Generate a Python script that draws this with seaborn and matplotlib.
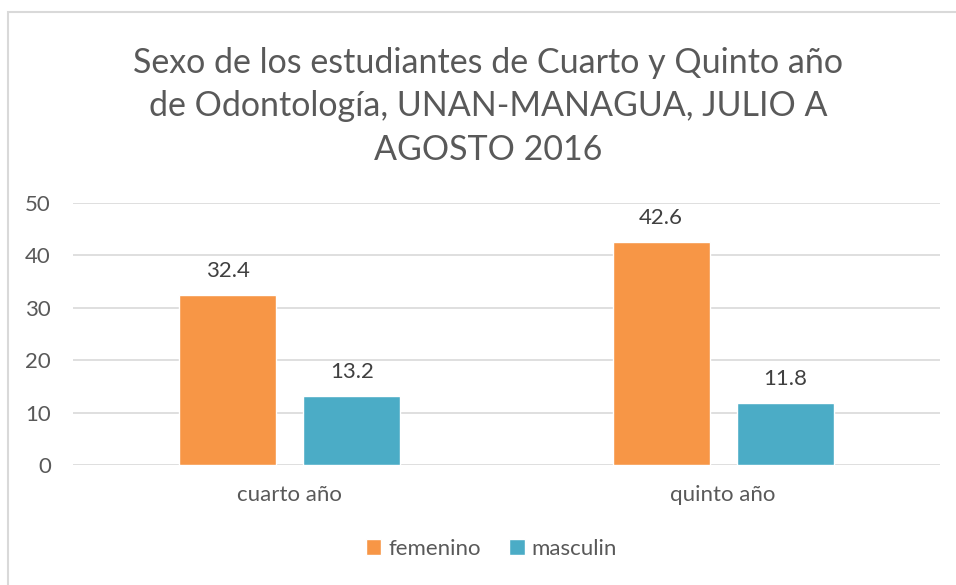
import pandas as pd
import matplotlib.pyplot as plt
import seaborn as sns
from matplotlib.patches import Rectangle

# data
anios = ['cuarto año', 'quinto año']
sexos = ['femenino', 'masculin']
femenino = [32.4, 42.6]
masculino = [13.2, 11.8]
colores = ['#F79646', '#4BACC6']

df = pd.DataFrame({
    'anio': anios * 2,
    'sexo': [sexos[0]] * 2 + [sexos[1]] * 2,
    'valor': femenino + masculino,
})

sns.set_theme(style='white')
plt.rcParams['font.family'] = ['Lato', 'DejaVu Sans']

fig = plt.figure(figsize=(9.56, 5.85), dpi=100)
ax = fig.add_axes([0.0764, 0.205, 0.9066, 0.448])

sns.barplot(data=df, x='anio', y='valor', hue='sexo', palette=colores,
            width=0.572, gap=0.217, saturation=1, ax=ax, legend=True)

ax.set_ylim(0, 50)
ax.set_xlim(-0.5, 1.5)
ax.set_yticks([0, 10, 20, 30, 40, 50])
ax.yaxis.grid(True, color='#D9D9D9', linewidth=1.2)
ax.set_axisbelow(True)
for s in ax.spines.values():
    s.set_visible(False)
ax.set_xlabel('')
ax.set_ylabel('')
ax.tick_params(axis='y', length=0, pad=16, labelsize=16, labelcolor='#595959')
ax.tick_params(axis='x', length=0, pad=14, labelsize=16, labelcolor='#595959')

for cont in ax.containers:
    ax.bar_label(cont, labels=[f'{v:.1f}' for v in cont.datavalues],
                 padding=10, fontsize=16, color='#404040')

handles, labels = ax.get_legend_handles_labels()
ax.get_legend().remove()
fig.legend(handles, labels, loc='center', bbox_to_anchor=(0.514, 0.062), ncol=2,
           frameon=False, fontsize=16, labelcolor='#595959', handlelength=0.7,
           handleheight=0.7, handletextpad=0.3, columnspacing=1.3)

fig.text(0.5105, 0.818, 'Sexo de los estudiantes de Cuarto y Quinto año\nde Odontología, UNAN-MANAGUA, JULIO A\nAGOSTO 2016',
         ha='center', va='center', fontsize=24.5, color='#595959', linespacing=1.45)

# chart frame (only top and left edges fall inside the image)
fig.patches.append(Rectangle((8 / 956, -0.1), 1.2, 1 - 12 / 585 + 0.1, transform=fig.transFigure,
                             fill=False, edgecolor='#D9D9D9', linewidth=1.5))

fig.savefig('out.png', dpi=100)
